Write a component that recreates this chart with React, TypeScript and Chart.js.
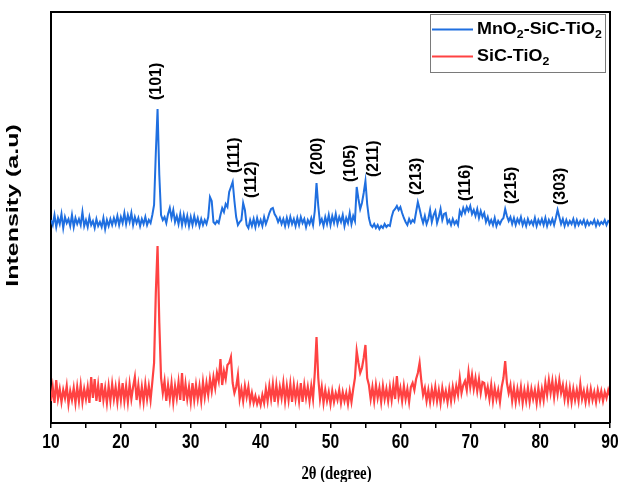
import React, { useEffect, useRef } from "react";
import { Chart, registerables } from "chart.js";

Chart.register(...registerables);

// 2θ sampling grid (degrees): first angle and scan step
const THETA_START = 10;
const THETA_STEP = 0.25;

const seriesNames = ["MnO2-SiC-TiO2", "SiC-TiO2"];
const seriesColors = ["#1f6fe0", "#ff4242"];

// MnO2-SiC-TiO2 intensity (a.u.), one row per degree (x.00, x.25, x.50, x.75)
const mnoSicTio2 = [
  203, 198, 208, 196, // 10
  205, 199, 209, 195, // 11
  206, 200, 204, 197, // 12
  208, 196, 205, 199, // 13
  204, 198, 211, 197, // 14
  203, 196, 206, 198, // 15
  202, 195, 204, 197, // 16
  201, 196, 205, 194, // 17
  203, 197, 204, 198, // 18
  205, 199, 207, 198, // 19
  206, 200, 210, 199, // 20
  208, 201, 210, 198, // 21
  206, 200, 205, 197, // 22
  204, 199, 206, 198, // 23
  203, 200, 208, 218, // 24
  270, 314, 248, 208, // 25
  203, 206, 200, 209, // 26
  215, 205, 213, 201, // 27
  207, 199, 209, 198, // 28
  208, 199, 207, 197, // 29
  206, 198, 207, 199, // 30
  205, 197, 204, 198, // 31
  203, 199, 206, 226, // 32
  222, 201, 199, 202, // 33
  200, 208, 215, 211, // 34
  219, 216, 231, 236, // 35
  241, 222, 206, 198, // 36
  201, 203, 220, 213, // 37
  198, 195, 203, 197, // 38
  204, 196, 205, 198, // 39
  203, 197, 206, 199, // 40
  204, 210, 214, 215, // 41
  209, 206, 201, 205, // 42
  199, 204, 197, 205, // 43
  198, 206, 199, 204, // 44
  197, 205, 198, 206, // 45
  200, 204, 196, 203, // 46
  199, 205, 198, 212, // 47
  240, 217, 200, 204, // 48
  197, 206, 199, 208, // 49
  198, 207, 200, 209, // 50
  199, 206, 201, 208, // 51
  197, 205, 200, 210, // 52
  199, 207, 202, 236, // 53
  224, 214, 220, 230, // 54
  242, 219, 205, 198, // 55
  196, 199, 195, 198, // 56
  194, 197, 195, 199, // 57
  196, 198, 197, 206, // 58
  212, 214, 217, 213, // 59
  216, 210, 205, 201, // 60
  198, 204, 200, 203, // 61
  201, 211, 221, 214, // 62
  206, 200, 207, 199, // 63
  204, 213, 201, 208, // 64
  212, 200, 206, 214, // 65
  203, 209, 210, 200, // 66
  203, 198, 204, 199, // 67
  202, 198, 212, 208, // 68
  215, 210, 216, 212, // 69
  217, 209, 213, 207, // 70
  214, 205, 212, 206, // 71
  210, 201, 206, 199, // 72
  203, 198, 205, 197, // 73
  202, 199, 203, 205, // 74
  214, 207, 202, 206, // 75
  199, 205, 198, 204, // 76
  200, 206, 198, 203, // 77
  197, 204, 199, 202, // 78
  198, 205, 197, 203, // 79
  199, 204, 198, 205, // 80
  197, 203, 199, 204, // 81
  198, 205, 213, 206, // 82
  199, 204, 197, 203, // 83
  198, 202, 199, 204, // 84
  197, 203, 198, 202, // 85
  199, 203, 197, 202, // 86
  198, 201, 199, 203, // 87
  197, 202, 198, 201, // 88
  199, 203, 198, 202, // 89
  201,                // 90
];

// SiC-TiO2 intensity (a.u.)
const sicTio2 = [
  22, 36, 20, 43, // 10
  24, 34, 21, 33, // 11
  25, 37, 19, 32, // 12
  23, 35, 20, 36, // 13
  22, 38, 21, 34, // 14
  24, 36, 20, 46, // 15
  25, 44, 22, 38, // 16
  21, 40, 23, 35, // 17
  20, 37, 22, 39, // 18
  24, 36, 21, 38, // 19
  23, 40, 22, 37, // 20
  21, 39, 24, 36, // 21
  46, 23, 38, 22, // 22
  36, 21, 39, 24, // 23
  37, 23, 41, 60, // 24
  130, 177, 100, 45, // 25
  30, 42, 22, 38, // 26
  24, 40, 21, 37, // 27
  25, 41, 23, 50, // 28
  22, 39, 24, 36, // 29
  21, 40, 23, 38, // 30
  24, 37, 22, 41, // 31
  26, 40, 28, 44, // 32
  32, 46, 35, 50, // 33
  42, 64, 38, 52, // 34
  44, 58, 60, 66, // 35
  40, 30, 36, 48, // 36
  24, 34, 22, 37, // 37
  26, 36, 21, 30, // 38
  20, 27, 19, 25, // 39
  18, 28, 20, 34, // 40
  22, 37, 24, 39, // 41
  21, 38, 23, 36, // 42
  25, 40, 22, 37, // 43
  23, 39, 21, 38, // 44
  24, 36, 22, 40, // 45
  21, 38, 25, 36, // 46
  22, 37, 24, 50, // 47
  86, 45, 24, 36, // 48
  20, 33, 22, 31, // 49
  19, 32, 21, 30, // 50
  23, 33, 20, 31, // 51
  22, 30, 19, 32, // 52
  21, 34, 45, 72, // 53
  60, 50, 55, 65, // 54
  78, 45, 38, 24, // 55
  36, 22, 38, 25, // 56
  35, 21, 37, 24, // 57
  34, 22, 36, 23, // 58
  38, 24, 47, 26, // 59
  35, 22, 37, 24, // 60
  34, 21, 36, 40, // 61
  33, 44, 50, 60, // 62
  42, 28, 35, 22, // 63
  33, 21, 34, 23, // 64
  36, 22, 33, 20, // 65
  35, 24, 32, 21, // 66
  34, 22, 36, 25, // 67
  37, 28, 45, 30, // 68
  38, 42, 33, 51, // 69
  36, 48, 34, 45, // 70
  32, 44, 30, 41, // 71
  40, 28, 36, 24, // 72
  38, 22, 35, 24, // 73
  33, 21, 36, 45, // 74
  62, 40, 30, 38, // 75
  22, 35, 21, 34, // 76
  23, 36, 20, 33, // 77
  22, 35, 21, 34, // 78
  24, 33, 20, 35, // 79
  22, 34, 23, 40, // 80
  28, 43, 30, 42, // 81
  26, 41, 29, 43, // 82
  30, 38, 24, 36, // 83
  22, 35, 21, 34, // 84
  23, 33, 22, 39, // 85
  24, 32, 21, 33, // 86
  22, 34, 23, 31, // 87
  21, 33, 24, 32, // 88
  22, 31, 25, 33, // 89
  27,             // 90
];

// Miller-index annotations: label, 2θ of label, intensity at label foot
const peakLabels = ["(101)", "(111)", "(112)", "(200)", "(105)", "(211)", "(213)", "(116)", "(215)", "(303)"];
const peakLabelTheta = [25.17, 36.33, 38.77, 48.2, 52.93, 56.2, 62.38, 69.4, 75.97, 82.99];
const peakLabelIntensity = [323, 250, 225, 248, 241, 246, 228, 222, 219, 218];

const xTickLabels = [10, 20, 30, 40, 50, 60, 70, 80, 90];
const xTitle = "2θ (degree)";
const yTitle = "Intensity (a.u)";

const SANS = '"Liberation Sans", Arial, Helvetica, sans-serif';
const SERIF = '"Liberation Serif", "Times New Roman", serif';

function toPoints(values: number[]) {
  return values.map((v, i) => ({ x: THETA_START + i * THETA_STEP, y: v }));
}

function drawRich(ctx: CanvasRenderingContext2D, text: string, x: number, y: number, sx: number) {
  // digits after letters rendered as subscripts
  const parts: [string, boolean][] = [];
  const re = /([A-Za-z])(\d)/g;
  let last = 0;
  let m: RegExpExecArray | null;
  while ((m = re.exec(text))) {
    parts.push([text.slice(last, m.index + 1), false]);
    parts.push([m[2], true]);
    last = m.index + 2;
  }
  if (last < text.length) parts.push([text.slice(last), false]);
  ctx.save();
  ctx.translate(x, y);
  ctx.scale(sx, 1);
  let cx = 0;
  for (const [t, sub] of parts) {
    ctx.font = sub ? `bold 11px ${SANS}` : `bold 16px ${SANS}`;
    ctx.fillText(t, cx, sub ? 4 : 0);
    cx += ctx.measureText(t).width;
  }
  ctx.restore();
}

const decorations = {
  id: "decorations",
  afterDraw(chart: any) {
    const { ctx, chartArea: ca, scales } = chart;
    const xs = scales.x;
    const ys = scales.y;
    ctx.save();
    // top and right frame
    ctx.strokeStyle = "#000";
    ctx.lineWidth = 2;
    ctx.beginPath();
    ctx.moveTo(ca.left, ca.top);
    ctx.lineTo(ca.right, ca.top);
    ctx.lineTo(ca.right, ca.bottom);
    ctx.stroke();

    ctx.fillStyle = "#000";
    // x tick labels
    ctx.textAlign = "center";
    ctx.textBaseline = "alphabetic";
    ctx.font = `bold 20px ${SANS}`;
    for (const t of xs.ticks) {
      if (!xTickLabels.includes(t.value)) continue;
      const px = xs.getPixelForValue(t.value);
      ctx.save();
      ctx.translate(px, 448);
      ctx.scale(0.78, 1);
      ctx.fillText(String(t.value), 0, 0);
      ctx.restore();
    }
    // x title
    ctx.save();
    ctx.font = `bold 18px ${SERIF}`;
    ctx.translate((ca.left + ca.right) / 2 + 6, 479);
    ctx.scale(0.82, 1);
    ctx.fillText(xTitle, 0, 0);
    ctx.restore();
    // y title
    ctx.save();
    ctx.font = `bold 25px ${SANS}`;
    ctx.textBaseline = "middle";
    ctx.translate(14, (ca.top + ca.bottom) / 2 - 12);
    ctx.rotate(-Math.PI / 2);
    ctx.scale(1, 0.65);
    ctx.fillText(yTitle, 0, 0);
    ctx.restore();

    // peak labels
    ctx.font = `bold 16px ${SANS}`;
    ctx.textAlign = "left";
    ctx.textBaseline = "middle";
    peakLabels.forEach((lab, i) => {
      const px = xs.getPixelForValue(peakLabelTheta[i]);
      const py = ys.getPixelForValue(peakLabelIntensity[i]);
      ctx.save();
      ctx.translate(px, py);
      ctx.rotate(-Math.PI / 2);
      ctx.fillText(lab, 0, 0);
      ctx.restore();
    });

    // legend
    ctx.strokeStyle = "#7a7a7a";
    ctx.lineWidth = 1;
    ctx.strokeRect(430.5, 14.5, 175, 58);
    ctx.textAlign = "left";
    ctx.textBaseline = "alphabetic";
    const rows = [29.5, 56.5];
    seriesNames.forEach((name, i) => {
      ctx.strokeStyle = seriesColors[i];
      ctx.lineWidth = 2;
      ctx.beginPath();
      ctx.moveTo(432, rows[i]);
      ctx.lineTo(473, rows[i]);
      ctx.stroke();
      ctx.fillStyle = "#000";
      drawRich(ctx, name, 477, rows[i] + 4.5, 1.12);
    });
    ctx.restore();
  },
};

export default function App() {
  const ref = useRef<HTMLCanvasElement | null>(null);
  useEffect(() => {
    if (!ref.current) return;
    const chart = new Chart(ref.current, {
      type: "line",
      data: {
        datasets: [
          {
            label: seriesNames[0],
            data: toPoints(mnoSicTio2),
            borderColor: seriesColors[0],
            borderWidth: 2,
            pointRadius: 0,
            tension: 0,
          },
          {
            label: seriesNames[1],
            data: toPoints(sicTio2),
            borderColor: seriesColors[1],
            borderWidth: 2.2,
            pointRadius: 0,
            tension: 0,
          },
        ],
      },
      options: {
        animation: false,
        responsive: false,
        devicePixelRatio: 1,
        parsing: false as any,
        layout: { padding: { left: 51, right: 10, top: 12, bottom: 0 } },
        plugins: { legend: { display: false }, tooltip: { enabled: false } },
        scales: {
          x: {
            type: "linear",
            min: 10,
            max: 90,
            ticks: { stepSize: 5, display: false },
            grid: {
              display: true,
              drawOnChartArea: false,
              drawTicks: true,
              tickLength: 5,
              color: "#000",
              lineWidth: 1.5,
            },
            border: { display: true, color: "#000", width: 2 },
            afterFit: (s: any) => {
              s.height = 59;
            },
          },
          y: {
            type: "linear",
            min: 0,
            max: 411,
            ticks: { display: false },
            grid: { display: false },
            border: { display: true, color: "#000", width: 2 },
            afterFit: (s: any) => {
              s.width = 0;
            },
          },
        },
      },
      plugins: [decorations],
    });
    return () => chart.destroy();
  }, []);
  return (
    <div style={{ position: "fixed", left: 0, top: 0, width: 620, height: 482, background: "#fff" }}>
      <canvas ref={ref} width={620} height={482} />
    </div>
  );
}
